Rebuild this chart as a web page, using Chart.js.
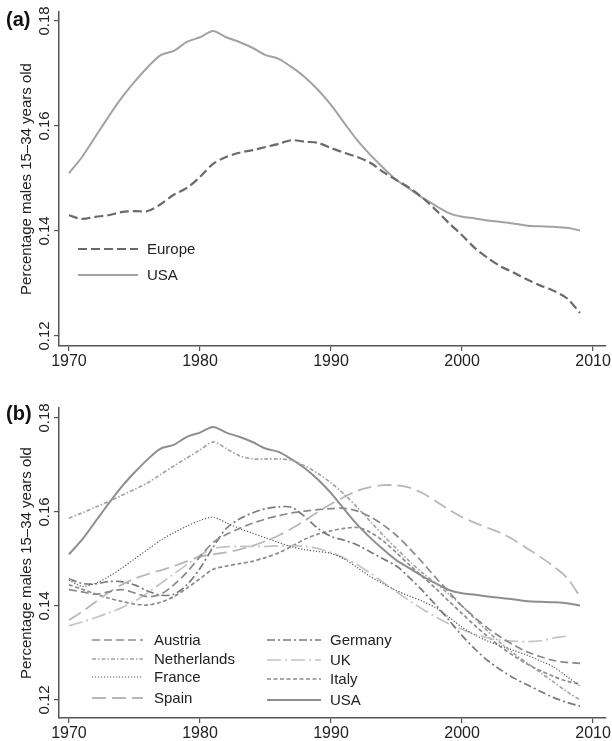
<!DOCTYPE html>
<html>
<head>
<meta charset="utf-8">
<script src="https://cdn.jsdelivr.net/npm/chart.js@4.4.0/dist/chart.umd.min.js"></script>
<style>
  body { margin: 0; background: #fff; }
  #wrap { position: relative; width: 612px; height: 741px; }
  canvas { position: absolute; left: 0; }
  #chartA { top: 0; }
  #chartB { top: 370px; }
</style>
</head>
<body>
<div id="wrap">
  <canvas id="chartA" width="612" height="370"></canvas>
  <canvas id="chartB" width="612" height="371"></canvas>
</div>
<script>
// Years shown on both panels
const years = [1970, 1971, 1972, 1973, 1974, 1975, 1976, 1977, 1978, 1979,
               1980, 1981, 1982, 1983, 1984, 1985, 1986, 1987, 1988, 1989,
               1990, 1991, 1992, 1993, 1994, 1995, 1996, 1997, 1998, 1999,
               2000, 2001, 2002, 2003, 2004, 2005, 2006, 2007, 2008, 2009];

const xTicks = [1970, 1980, 1990, 2000, 2010];
const yTicks = [0.12, 0.14, 0.16, 0.18];

// Share of males aged 15-34
const usa = [.1510, .1541, .1579, .1617, .1653, .1684, .1712, .1735, .1743, .1760,
             .1769, .1781, .1769, .1760, .1749, .1735, .1728, .1712, .1693, .1669,
             .1640, .1606, .1573, .1545, .1520, .1497, .1480, .1463, .1448, .1434,
             .1427, .1424, .1420, .1417, .1414, .1410, .1409, .1408, .1406, .1401];

const europe = [.1430, .1423, .1427, .1430, .1436, .1438, .1438, .1451, .1469, .1482,
                .1503, .1528, .1541, .1549, .1554, .1560, .1566, .1573, .1570, .1568,
                .1558, .1549, .1541, .1530, .1512, .1497, .1482, .1463, .1440, .1415,
                .1392, .1367, .1348, .1332, .1320, .1307, .1296, .1286, .1272, .1244];

const austria = [.1435, .1430, .1425, .1430, .1435, .1428, .1420, .1425, .1445, .1472,
                 .1505, .1535, .1552, .1565, .1576, .1585, .1592, .1598, .1602, .1605,
                 .1607, .1608, .1602, .1590, .1572, .1550, .1522, .1492, .1460, .1430,
                 .1400, .1375, .1352, .1333, .1316, .1302, .1292, .1284, .1280, .1278];

const netherlands = [.1587, .1598, .1610, .1622, .1635, .1648, .1662, .1680, .1698, .1715,
                     .1732, .1749, .1735, .1720, .1713, .1713, .1713, .1710, .1698, .1682,
                     .1662, .1638, .1610, .1580, .1550, .1522, .1495, .1470, .1448, .1425,
                     .1400, .1372, .1345, .1320, .1298, .1278, .1258, .1238, .1218, .1200];

const france = [.1455, .1442, .1448, .1462, .1480, .1500, .1520, .1540, .1556, .1570,
                .1582, .1589, .1577, .1565, .1555, .1545, .1535, .1526, .1520, .1516,
                .1512, .1500, .1482, .1463, .1447, .1433, .1421, .1410, .1396, .1376,
                .1355, .1338, .1325, .1315, .1305, .1295, .1283, .1270, .1250, .1230];

const spain = [.1370, .1388, .1408, .1428, .1445, .1458, .1468, .1476, .1485, .1495,
               .1505, .1510, .1514, .1520, .1528, .1538, .1550, .1565, .1582, .1600,
               .1617, .1632, .1645, .1653, .1657, .1657, .1652, .1640, .1623, .1605,
               .1589, .1577, .1566, .1555, .1540, .1522, .1504, .1484, .1460, .1420];

const germany = [.1458, .1448, .1447, .1452, .1452, .1445, .1432, .1423, .1425, .1445,
                 .1480, .1525, .1565, .1585, .1598, .1607, .1611, .1610, .1590, .1565,
                 .1548, .1540, .1530, .1515, .1500, .1485, .1460, .1432, .1402, .1370,
                 .1337, .1308, .1283, .1263, .1246, .1232, .1218, .1205, .1195, .1187];

// UK series stops in 2008
const uk = [.1358, .1366, .1375, .1385, .1396, .1410, .1428, .1448, .1468, .1488,
            .1508, .1522, .1526, .1527, .1527, .1527, .1528, .1528, .1527, .1522,
            .1514, .1502, .1488, .1470, .1450, .1430, .1411, .1393, .1377, .1362,
            .1350, .1340, .1332, .1327, .1325, .1324, .1326, .1332, .1336];

const italy = [.1445, .1436, .1426, .1417, .1410, .1404, .1402, .1408, .1420, .1438,
               .1458, .1478, .1485, .1490, .1495, .1503, .1513, .1527, .1542, .1553,
               .1560, .1565, .1567, .1557, .1538, .1513, .1487, .1462, .1437, .1410,
               .1384, .1358, .1334, .1312, .1293, .1276, .1262, .1250, .1240, .1234];

Chart.defaults.font.family = "'Liberation Sans', Arial, sans-serif";
Chart.defaults.color = '#222';

function toPoints(values) {
    return values.map((v, i) => ({ x: years[i], y: v }));
}

function series(label, values, color, width, dash) {
    return {
        label: label,
        data: toPoints(values),
        borderColor: color,
        borderWidth: width,
        borderDash: dash,
        pointRadius: 0,
        tension: 0.3,
        fill: false
    };
}

// Legend drawn inside the plot area, using each dataset's own line style
const innerLegend = {
    id: 'innerLegend',
    afterDatasetsDraw(chart, args, opts) {
        const ctx = chart.ctx;
        ctx.save();
        opts.items.forEach(item => {
            const ds = chart.data.datasets[item.index];
            ctx.beginPath();
            ctx.strokeStyle = ds.borderColor;
            ctx.lineWidth = ds.borderWidth;
            ctx.setLineDash(ds.borderDash || []);
            ctx.moveTo(item.x1, item.y);
            ctx.lineTo(item.x2, item.y);
            ctx.stroke();
            ctx.setLineDash([]);
            ctx.fillStyle = '#222';
            ctx.font = "15px 'Liberation Sans', Arial, sans-serif";
            ctx.textBaseline = 'middle';
            ctx.textAlign = 'left';
            ctx.fillText(ds.label, item.tx, item.y + 1);
        });
        ctx.restore();
    }
};

const panelLabel = {
    id: 'panelLabel',
    afterDraw(chart, args, opts) {
        const ctx = chart.ctx;
        ctx.save();
        ctx.fillStyle = '#111';
        ctx.font = "bold 20px 'Liberation Sans', Arial, sans-serif";
        ctx.textBaseline = 'middle';
        ctx.textAlign = 'left';
        ctx.fillText(opts.text, opts.x, opts.y);
        ctx.restore();
    }
};

function getOptions(yMin, yMax, topPad, xHeight, label, labelY, legendItems) {
    return {
        responsive: false,
        animation: false,
        layout: { padding: { top: topPad, right: 5, left: 0, bottom: 0 } },
        scales: {
            x: {
                type: 'linear',
                min: 1969.24,
                max: 2010.99,
                afterBuildTicks: s => { s.ticks = xTicks.map(v => ({ value: v })); },
                afterFit: s => { s.height = xHeight; },
                grid: { drawOnChartArea: false, drawTicks: true, tickLength: 5, color: '#555', lineWidth: 1.2 },
                border: { display: true, color: '#555', width: 1.5 },
                ticks: {
                    font: { size: 16 },
                    padding: 1,
                    callback: v => String(v)
                }
            },
            y: {
                type: 'linear',
                min: yMin,
                max: yMax,
                afterBuildTicks: s => { s.ticks = yTicks.map(v => ({ value: v })); },
                afterFit: s => { s.width = 59; },
                grid: { drawOnChartArea: false, drawTicks: true, tickLength: 5, color: '#555', lineWidth: 1.2 },
                border: { display: true, color: '#555', width: 1.5 },
                ticks: {
                    font: { size: 15 },
                    minRotation: 90,
                    maxRotation: 90,
                    crossAlign: 'center',
                    padding: -5,
                    callback: v => v.toFixed(2)
                },
                title: {
                    display: true,
                    text: 'Percentage males 15–34 years old',
                    font: { size: 15 },
                    padding: { top: 18, bottom: 0 }
                }
            }
        },
        plugins: {
            legend: { display: false },
            tooltip: { enabled: false },
            innerLegend: { items: legendItems },
            panelLabel: { text: label, x: 6, y: labelY }
        }
    };
}

// Panel (a): Europe vs USA
new Chart(document.getElementById('chartA'), {
    type: 'line',
    data: {
        datasets: [
            series('Europe', europe, '#6a6a6a', 2.2, [9, 4]),
            series('USA', usa, '#a2a2a2', 2)
        ]
    },
    options: getOptions(0.11810, 0.18171, 12, 24, '(a)', 20, [
        { index: 0, x1: 78, x2: 138, tx: 147, y: 249 },
        { index: 1, x1: 78, x2: 138, tx: 147, y: 275 }
    ]),
    plugins: [innerLegend, panelLabel]
});

// Panel (b): individual countries
new Chart(document.getElementById('chartB'), {
    type: 'line',
    data: {
        datasets: [
            series('Austria', austria, '#8a8a8a', 1.7, [8, 4]),
            series('Netherlands', netherlands, '#a4a4a4', 1.7, [4, 2, 1.5, 2]),
            series('France', france, '#555555', 1.2, [1.2, 1.8]),
            series('Spain', spain, '#b8b8b8', 1.8, [14, 6]),
            series('Germany', germany, '#7a7a7a', 1.7, [8, 3, 2, 3]),
            series('UK', uk, '#c4c4c4', 1.7, [14, 4, 2, 4]),
            series('Italy', italy, '#8c8c8c', 1.7, [4, 2.5]),
            series('USA', usa, '#8e8e8e', 2)
        ]
    },
    options: getOptions(0.11617, 0.18213, 38, 23, '(b)', 44, [
        { index: 0, x1: 92, x2: 143, tx: 154, y: 270 },
        { index: 1, x1: 92, x2: 143, tx: 154, y: 289 },
        { index: 2, x1: 92, x2: 143, tx: 154, y: 307 },
        { index: 3, x1: 92, x2: 143, tx: 154, y: 328 },
        { index: 4, x1: 267, x2: 321, tx: 330, y: 270 },
        { index: 5, x1: 267, x2: 321, tx: 330, y: 290 },
        { index: 6, x1: 267, x2: 321, tx: 330, y: 309 },
        { index: 7, x1: 267, x2: 321, tx: 330, y: 330 }
    ]),
    plugins: [innerLegend, panelLabel]
});
</script>
</body>
</html>
